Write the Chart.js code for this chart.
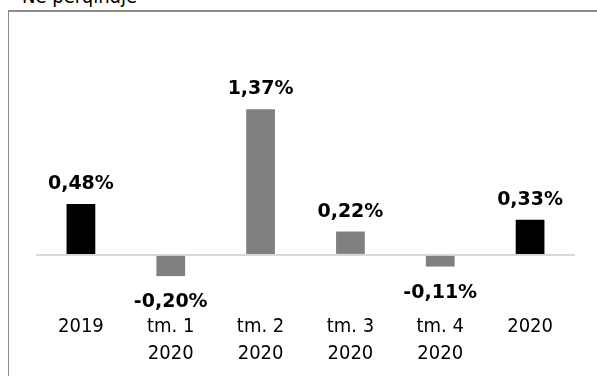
<!DOCTYPE html>
<html>
<head>
<meta charset="utf-8">
<script src="https://cdn.jsdelivr.net/npm/chart.js@4"></script>
<style>
    body { margin: 0; width: 597px; height: 376px; overflow: hidden; background: #fff; position: relative; }
    #title { position: absolute; left: 22px; top: -16px; font: 20px "DejaVu Sans Condensed", "DejaVu Sans", sans-serif; color: #000; white-space: nowrap; }
    #frame { position: absolute; left: 8px; top: 10px; width: 600px; height: 380px; border-left: 1px solid #8c8c8c; border-top: 2px solid #8c8c8c; }
    #wrap { position: absolute; left: 9px; top: 11px; width: 588px; height: 365px; }
</style>
</head>
<body>
<div id="title">Në përqindje</div>
<div id="frame"></div>
<div id="wrap"><canvas id="chart"></canvas></div>
<script>
// Chart data
const categories = [['2019'], ['tm. 1', '2020'], ['tm. 2', '2020'], ['tm. 3', '2020'], ['tm. 4', '2020'], ['2020']];
const values = [0.48, -0.20, 1.37, 0.22, -0.11, 0.33];

const fmt = v => v.toFixed(2).replace('.', ',') + '%';

// Value labels above / below each bar
const valueLabels = {
    id: 'valueLabels',
    afterDatasetsDraw(chart) {
        const ctx = chart.ctx;
        const meta = chart.getDatasetMeta(0);
        ctx.save();
        ctx.font = 'bold 19px "DejaVu Sans", sans-serif';
        ctx.fillStyle = '#000';
        ctx.textAlign = 'center';
        ctx.textBaseline = 'alphabetic';
        meta.data.forEach((bar, i) => {
            const v = values[i];
            const y = v >= 0 ? bar.y - 15 : bar.y + 31;
            ctx.fillText(fmt(v), bar.x, y);
        });
        ctx.restore();
    }
};

new Chart(document.getElementById('chart'), {
    type: 'bar',
    data: {
        labels: categories,
        datasets: [{
            data: values,
            backgroundColor: ['#000000', '#808080', '#808080', '#808080', '#808080', '#000000'],
            categoryPercentage: 1,
            barPercentage: 0.32
        }]
    },
    options: {
        responsive: true,
        maintainAspectRatio: false,
        animation: false,
        layout: { padding: { left: 27, right: 22, top: 58, bottom: 12 } },
        plugins: { legend: { display: false }, tooltip: { enabled: false } },
        scales: {
            x: {
                grid: { display: false },
                border: { display: false },
                ticks: {
                    color: '#000',
                    padding: -3,
                    maxRotation: 0,
                    font: { family: '"DejaVu Sans Condensed", "DejaVu Sans", sans-serif', size: 20, lineHeight: 1.35 }
                }
            },
            y: {
                min: -0.5,
                max: 1.75,
                afterFit(scale) { scale.width = 0; },
                ticks: { display: false, stepSize: 0.25 },
                border: { display: false },
                grid: {
                    drawTicks: false,
                    lineWidth: 2,
                    color: c => c.tick && c.tick.value === 0 ? '#d9d9d9' : 'rgba(0,0,0,0)'
                }
            }
        }
    },
    plugins: [valueLabels]
});
</script>
</body>
</html>
